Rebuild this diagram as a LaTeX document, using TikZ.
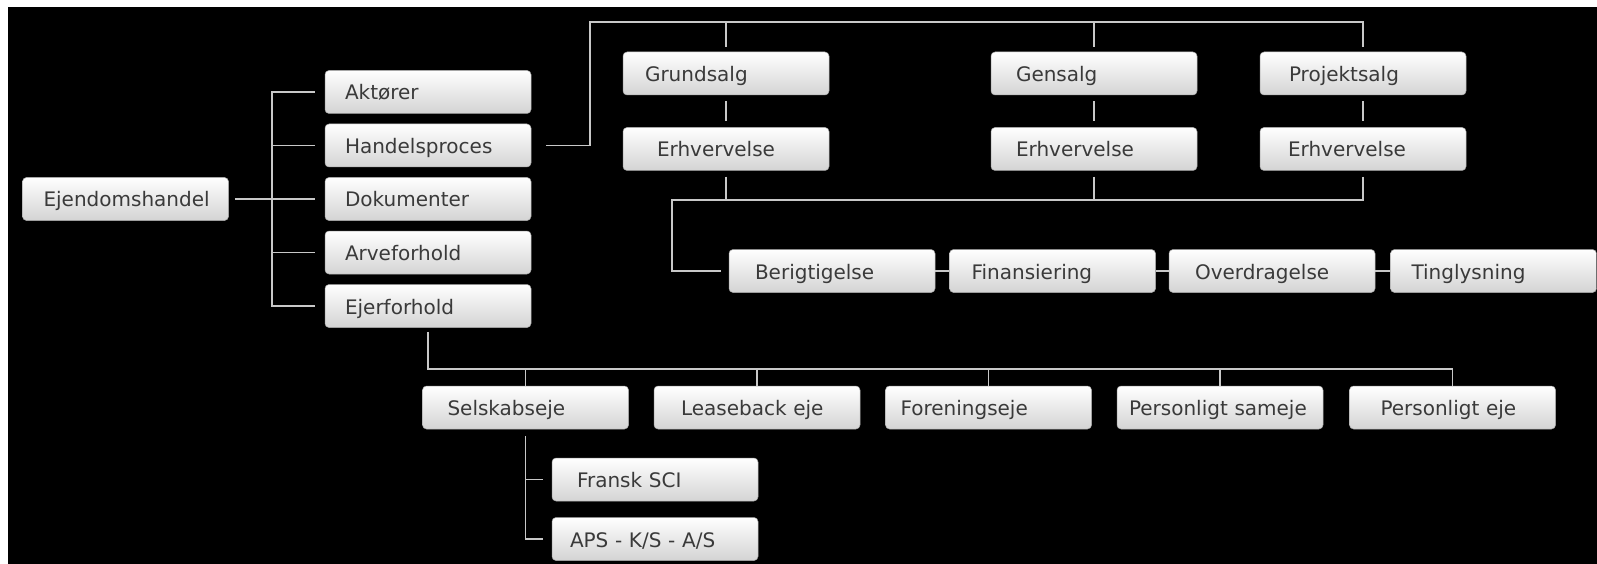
\documentclass[tikz,border=0pt]{standalone}
\usepackage{fontspec}
\setmainfont{DejaVu Sans}
\usetikzlibrary{positioning}
\definecolor{boxtext}{HTML}{3A3A3A}
\definecolor{boxline}{HTML}{A8A8A8}
\definecolor{linegray}{HTML}{C8C8C8}
\begin{document}
\begin{tikzpicture}[x=1pt,y=-1pt,
  box/.style={rectangle, rounded corners=4pt, draw=boxline, line width=0.5pt,
    top color=white, middle color=white, bottom color=black!17, text=boxtext,
    font=\fontsize{20}{24}\selectfont,
    minimum height=43pt, inner xsep=0pt, inner ysep=0pt,
    text width=206pt, align=left, text height=16pt, text depth=0pt,
    execute at begin node={\hspace*{#1pt}}},
  box/.default=20,
  link/.style={draw=linegray, line width=1.6pt}]
% Rahmen
\fill[white] (0,0) rectangle (1597,564);
\fill[black] (8,7) rectangle (1597,564);
\useasboundingbox (0,0) rectangle (1597,564);

% Hovedgren
\node[box] (akt) at (428,92) {Aktører};
\node[box, below=10pt of akt] (han) {Handelsproces};
\node[box, below=10pt of han] (dok) {Dokumenter};
\node[box, below=10pt of dok] (arv) {Arveforhold};
\node[box, below=10pt of arv] (ejf) {Ejerforhold};
\node[box=21, left=96pt of dok] (ejd) {Ejendomshandel};

% Handelsproces
\node[box=22] (gru) at (726,73.5) {Grundsalg};
\node[box=25] (gen) at (1094,73.5) {Gensalg};
\node[box=29] (pro) at (1363,73.5) {Projektsalg};
\node[box=34, below=32pt of gru] (erh1) {Erhvervelse};
\node[box=25, below=32pt of gen] (erh2) {Erhvervelse};
\node[box=28, below=32pt of pro] (erh3) {Erhvervelse};
\node[box=26] (ber) at (832,271) {Berigtigelse};
\node[box=22, right=14pt of ber] (fin) {Finansiering};
\node[box=26, right=13pt of fin] (ove) {Overdragelse};
\node[box=21, right=15pt of ove] (tin) {Tinglysning};

% Ejerforhold
\node[box=25] (sel) at (525.5,407.5) {Selskabseje};
\node[box=27, right=25pt of sel] (lea) {Leaseback eje};
\node[box=15, right=25pt of lea] (fore) {Foreningseje};
\node[box=12, right=25pt of fore] (pso) {Personligt sameje};
\node[box=31, right=26pt of pso] (pej) {Personligt eje};
\node[box=25] (fra) at (655,479.5) {Fransk SCI};
\node[box=18, below=16pt of fra] (aps) {APS - K/S - A/S};

% Forbindelser
\coordinate (trk) at (272,0);
\coordinate (hup) at (590,22);
\coordinate (pbus) at (672,200);
\coordinate (obus) at (0,369);
\draw[link, shorten <=6pt, shorten >=10pt] (ejd.east) -- (dok.west);
\draw[link, shorten <=10pt, shorten >=10pt] (akt.west) -| (trk |- ejf.west) -- (ejf.west);
\draw[link, shorten >=10pt] (trk |- han.west) -- (han.west);
\draw[link, shorten >=10pt] (trk |- arv.west) -- (arv.west);

\draw[link, shorten <=15pt, shorten >=5pt] (han.east) -| (hup) -| (pro.north);
\draw[link, shorten >=5pt] (hup -| gru.north) -- (gru.north);
\draw[link, shorten >=5pt] (hup -| gen.north) -- (gen.north);
\draw[link, shorten <=6pt, shorten >=6pt] (gru.south) -- (erh1.north);
\draw[link, shorten <=6pt, shorten >=6pt] (gen.south) -- (erh2.north);
\draw[link, shorten <=6pt, shorten >=6pt] (pro.south) -- (erh3.north);
\draw[link, shorten <=6pt, shorten >=8pt] (erh3.south) |- (pbus) |- (ber.west);
\draw[link, shorten <=6pt] (erh1.south) -- (erh1.south |- pbus);
\draw[link, shorten <=6pt] (erh2.south) -- (erh2.south |- pbus);
\draw[link] (ber) -- (fin);
\draw[link] (fin) -- (ove);
\draw[link] (ove) -- (tin);

\draw[link, shorten <=4pt] (ejf.south) |- (obus -| pej.north) -- (pej.north);
\draw[link] (sel.north |- obus) -- (sel.north);
\draw[link] (lea.north |- obus) -- (lea.north);
\draw[link] (fore.north |- obus) -- (fore.north);
\draw[link] (pso.north |- obus) -- (pso.north);
\draw[link, shorten <=7pt, shorten >=9pt] (sel.south) |- (aps.west);
\draw[link, shorten >=9pt] (sel.south |- fra.west) -- (fra.west);
\end{tikzpicture}
\end{document}
